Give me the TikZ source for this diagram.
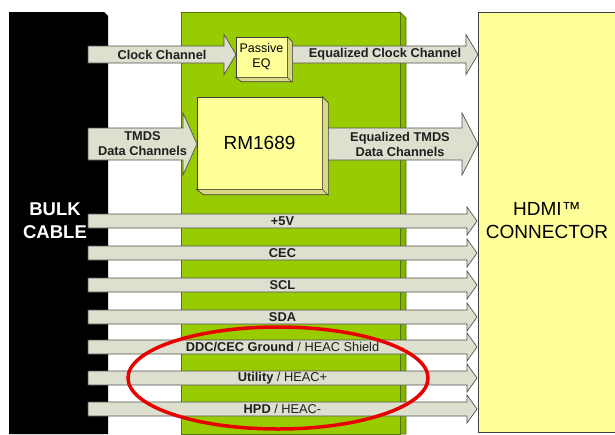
\documentclass[tikz,border=0pt]{standalone}
\usepackage{fontspec}
\setmainfont{Liberation Sans}
\usetikzlibrary{positioning,calc}
\definecolor{boardgreen}{RGB}{153,204,0}
\definecolor{boardedge}{RGB}{80,115,10}
\definecolor{chipyellow}{RGB}{255,255,153}
\definecolor{chanfill}{RGB}{221,224,207}
\definecolor{chanedge}{RGB}{80,80,80}
\definecolor{ringred}{RGB}{232,0,0}
\tikzset{
  chan/.style={fill=chanfill, draw=chanedge, line width=0.7pt},
  chanlabel/.style={font=\bfseries\fontsize{12.8}{15}\selectfont, text=black!88,
    align=center, inner sep=0pt},
  chipface/.style={fill=chipyellow, draw=black!75, line width=0.7pt, align=center},
  chipside/.style={fill=chipyellow!85!black, draw=black!75, line width=0.7pt},
  bigtext/.style={font=\fontsize{19}{23}\selectfont, align=center}
}
% block arrow: name, x start, x tip, y centre, shaft half, head half, head length, label
\newcommand{\chanarrow}[8]{%
  \draw[chan] (#2,#4-#5) -- (#3-#7,#4-#5) -- (#3-#7,#4-#6) -- (#3,#4)
    -- (#3-#7,#4+#6) -- (#3-#7,#4+#5) -- (#2,#4+#5) -- cycle;
  \node[chanlabel] (#1) at ({(#2+#3)/2},#4) {#8};}

\begin{document}
\begin{tikzpicture}[x=1pt,y=-1pt]
  \useasboundingbox (0,0) rectangle (615,434);
  % bulk cable, board and connector
  \fill[black] (9,12) -- (104,12) -- (108,16) -- (108,434) -- (9,434) -- cycle;
  \draw[fill=boardgreen!88!black, draw=boardedge, line width=0.7pt]
    (400,12) -- (406,18) -- (406,434) -- (400,434) -- cycle;
  \draw[fill=boardgreen, draw=boardedge, line width=0.7pt] (181,12) rectangle (400,434);
  \draw[chipface] (478,12) rectangle (625,432);
  \node[bigtext, text=white, font=\bfseries\fontsize{18.5}{23}\selectfont] (bulk) at (55,221) {BULK\\CABLE};
  \node[bigtext] (hdmi) at (547,221) {HDMI™\\CONNECTOR};

  % high speed channels
  \chanarrow{clk}{88}{236}{54.5}{8.5}{20}{12}{Clock Channel}
  \chanarrow{eqclk}{292}{478}{54.5}{8.5}{20}{12}{Equalized Clock Channel}
  \chanarrow{tmds}{88}{197}{144}{16}{31}{14}{TMDS\\Data Channels}
  \chanarrow{eqtmds}{322}{478}{144}{16}{31}{16}{Equalized TMDS\\Data Channels}

  % chips
  \node[chipface, minimum width=51pt, minimum height=40pt, font=\fontsize{12.5}{15}\selectfont]
    (eq) at (261.5,57) {Passive\\EQ};
  \draw[chipside] (eq.north east) -- ++(5,5) -- ++(0,40) -- ++(-51,0) -- (eq.south west) -- (eq.south east) -- cycle;
  \draw[black!75, line width=0.7pt] (eq.south east) -- ++(5,5);
  \node[chipface, minimum width=125pt, minimum height=92pt, bigtext] (rm) at (259.5,143) {RM1689};
  \draw[chipside] (rm.north east) -- ++(6,6) -- ++(0,92) -- ++(-125,0) -- (rm.south west) -- (rm.south east) -- cycle;
  \draw[black!75, line width=0.7pt] (rm.south east) -- ++(6,6);

  % low speed lines
  \chanarrow{pwr}{88}{477}{221}{7}{14}{10}{+5V}
  \chanarrow{cec}{88}{477}{253}{7}{14}{10}{CEC}
  \chanarrow{scl}{88}{477}{285}{7}{14}{10}{SCL}
  \chanarrow{sda}{88}{477}{317}{7}{14}{10}{SDA}
  \chanarrow{gnd}{88}{477}{347}{7}{14}{10}{DDC/CEC Ground \textmd{/ HEAC Shield}}
  \chanarrow{util}{88}{477}{378}{7}{14}{10}{Utility \textmd{/ HEAC+}}
  \chanarrow{hpd}{88}{477}{409}{7}{14}{10}{HPD \textmd{/ HEAC-}}

  % HEAC highlight
  \draw[ringred, line width=3.5pt] (278,378) ellipse [x radius=150, y radius=51];
\end{tikzpicture}
\end{document}
